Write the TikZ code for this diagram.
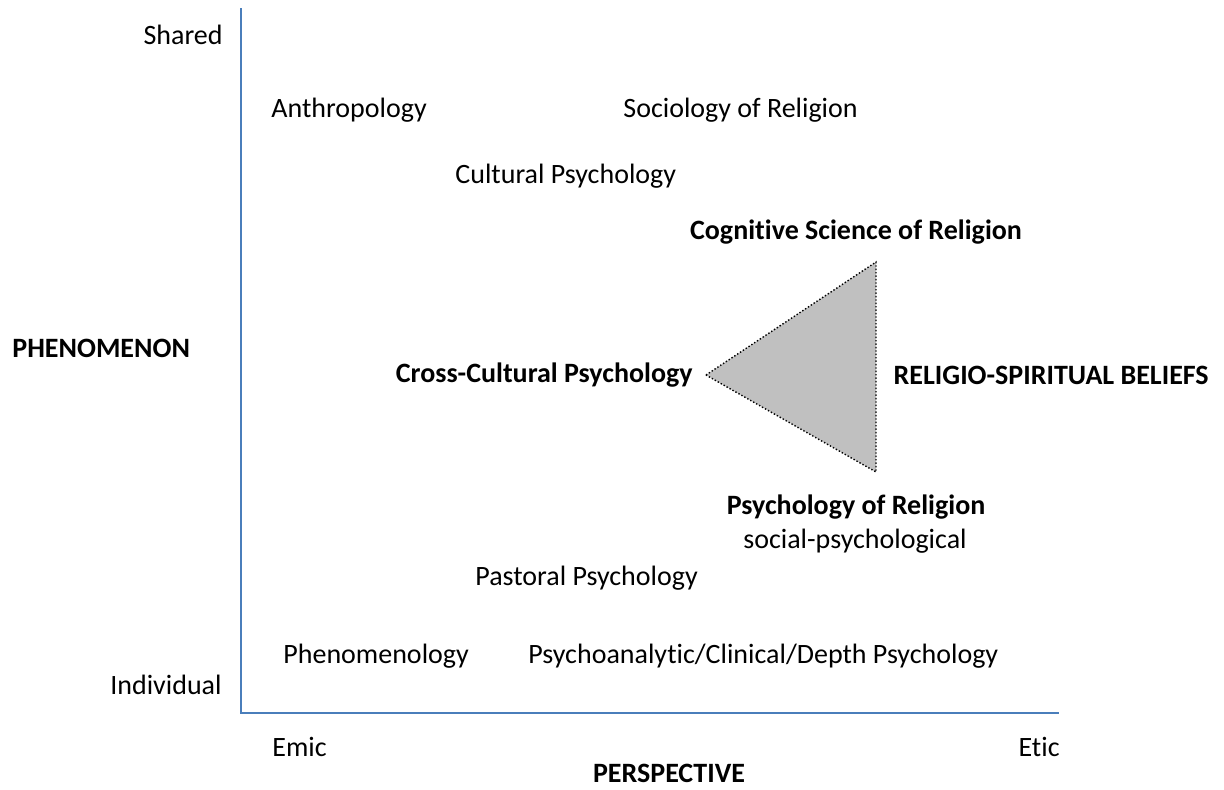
\documentclass[tikz,border=0pt]{standalone}
\usepackage{fontspec}
\setmainfont{Carlito}[Ligatures={NoCommon}]
\usetikzlibrary{positioning}
\definecolor{axisblue}{HTML}{4A7EBB}
\definecolor{wedgegray}{HTML}{C0C0C0}
\tikzset{
     label/.style = { font=\fontsize{14}{16}\selectfont, inner sep=0pt, anchor=west },
     title/.style = { label, font=\fontsize{14}{16}\selectfont\bfseries },
      axis/.style = { color=axisblue, line width=0.6pt },
     wedge/.style = { fill=wedgegray, draw=black, densely dotted, line width=0.7pt }
}
\begin{document}
\begin{tikzpicture}[x=0.5pt,y=-0.5pt]
  \useasboundingbox (0,0) rectangle (1224,789);
  % axes
  \coordinate (top) at (241,8);
  \coordinate (origin) at (241,713);
  \coordinate (right) at (1059,713);
  \draw [axis] (top) -- (origin) -- (right);

  % axis texts
  \node[label, anchor=east] (shared) at (223,35) {Shared};
  \node[label, anchor=east] (individual) at (222,685) {Individual};
  \node[title] (phenomenon) at (12,348) {PHENOMENON};
  \node[label] (emic) at (272,747) {Emic};
  \node[label, anchor=east] (etic) at (1060,747) {Etic};
  \node[title, anchor=center] (perspective) at (669,773) {PERSPECTIVE};

  % disciplines
  \node[label] (anthro) at (271,110) {Anthropology};
  \node[label] (socio) at (623,110) {Sociology of Religion};
  \node[label] (cultural) at (455,176) {Cultural Psychology};
  \node[title, anchor=center] (cognitive) at (856,232) {Cognitive Science of Religion};
  \node[title, anchor=east] (crosscult) at (693,375) {Cross-Cultural Psychology};
  \node[title, anchor=east] (beliefs) at (1209,375) {RELIGIO-SPIRITUAL BELIEFS};
  \node[title, anchor=center] (psyrel) at (856,507) {Psychology of Religion};
  \node[label, anchor=center] (socpsy) at (855,541) {social-psychological};
  \node[label] (pastoral) at (475,578) {Pastoral Psychology};
  \node[label] (phenom) at (283,656) {Phenomenology};
  \node[label] (depth) at (528,656) {Psychoanalytic/Clinical/Depth Psychology};

  % triangle
  \coordinate (apex) at (706,375);
  \coordinate (upper) at (876,262);
  \coordinate (lower) at (876,472);
  \draw [wedge] (apex) -- (upper) -- (lower) -- cycle;
\end{tikzpicture}
\end{document}
